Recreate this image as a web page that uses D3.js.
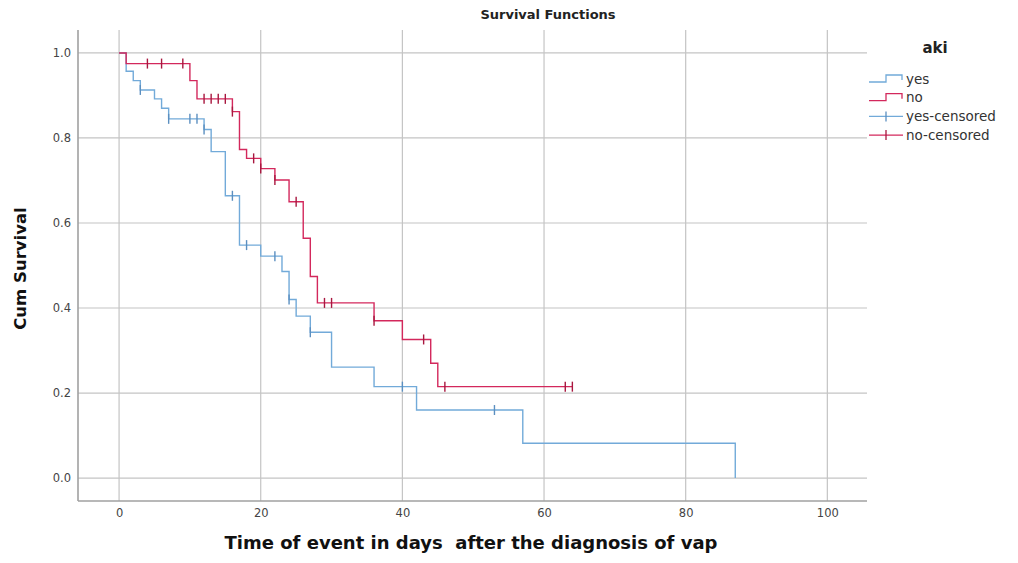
<!DOCTYPE html>
<html>
<head>
<meta charset="utf-8">
<script src="https://cdn.jsdelivr.net/npm/d3@7"></script>
<style>
  body { margin: 0; background: #fff; }
  text { font-family: "DejaVu Sans", Verdana, sans-serif; }
</style>
</head>
<body>
<script>
// Kaplan-Meier steps
const yesTimes = [0, 1, 2, 3, 5, 6, 7, 12, 13, 15, 17, 20, 23, 24, 25, 27, 30, 36, 42, 57, 87];
const yesSurv = [1, 0.957, 0.935, 0.913, 0.892, 0.870, 0.845, 0.820, 0.768, 0.664, 0.548, 0.522, 0.486, 0.420, 0.381, 0.343, 0.261, 0.215, 0.160, 0.082, 0];
const yesCensored = [3, 7, 10, 11, 12, 16, 18, 22, 24, 27, 40, 53];
const yesEnd = 87;

const noTimes = [0, 1, 10, 11, 16, 17, 18, 20, 22, 24, 26, 27, 28, 36, 40, 44, 45];
const noSurv = [1, 0.975, 0.935, 0.892, 0.862, 0.773, 0.752, 0.728, 0.701, 0.650, 0.564, 0.474, 0.412, 0.370, 0.326, 0.270, 0.215];
const noCensored = [4, 6, 9, 12, 13, 14, 15, 16, 19, 20, 22, 25, 29, 30, 36, 43, 46, 63, 64];
const noEnd = 64;

const xTicks = [0, 20, 40, 60, 80, 100];
const yTicks = [0, 0.2, 0.4, 0.6, 0.8, 1.0];
const legendLabels = ["yes", "no", "yes-censored", "no-censored"];

const W = 1018, H = 563;
const plotLeft = 78, plotRight = 867, plotTop = 30, plotBottom = 501;

const svg = d3.select("body").append("svg")
    .attr("width", W)
    .attr("height", H);

const x = d3.scaleLinear().domain([-5.8, 105.6]).range([plotLeft, plotRight]);
const y = d3.scaleLinear().domain([-0.054, 1.054]).range([plotBottom, plotTop]);

const colors = { yes: "#72aad9", no: "#d3285c" };
const markColors = { yes: "#5b8fc0", no: "#a8173f" };

// grid
svg.append("g").selectAll("line").data(xTicks).enter()
    .append("line")
    .attr("x1", d => x(d)).attr("x2", d => x(d))
    .attr("y1", plotTop).attr("y2", plotBottom)
    .attr("stroke", "#c4c4c4").attr("stroke-width", 1.2);

svg.append("g").selectAll("line").data(yTicks).enter()
    .append("line")
    .attr("x1", plotLeft).attr("x2", plotRight)
    .attr("y1", d => y(d)).attr("y2", d => y(d))
    .attr("stroke", "#c4c4c4").attr("stroke-width", 1.2);

// axes (labels only, lines drawn below)
const xAxis = svg.append("g")
    .attr("transform", `translate(0,${plotBottom})`)
    .call(d3.axisBottom(x).tickValues(xTicks).tickSize(0).tickPadding(8));
const yAxis = svg.append("g")
    .attr("transform", `translate(${plotLeft},0)`)
    .call(d3.axisLeft(y).tickValues(yTicks).tickSize(0).tickPadding(7).tickFormat(d3.format(".1f")));
[xAxis, yAxis].forEach(a => {
    a.select(".domain").remove();
    a.selectAll("text")
        .attr("fill", "#444")
        .style("font-size", "11.5px")
        .style("font-family", "'DejaVu Sans', Verdana, sans-serif");
});

svg.append("line")
    .attr("x1", plotLeft).attr("x2", plotLeft).attr("y1", plotTop).attr("y2", plotBottom)
    .attr("stroke", "#a0a0a0").attr("stroke-width", 1.6);
svg.append("line")
    .attr("x1", plotLeft).attr("x2", plotRight).attr("y1", plotBottom).attr("y2", plotBottom)
    .attr("stroke", "#a0a0a0").attr("stroke-width", 1.6);

function survAt(times, surv, t) {
    let s = surv[0];
    times.forEach((tt, i) => { if (tt <= t) s = surv[i]; });
    return s;
}

const line = d3.line()
    .x(d => x(d[0]))
    .y(d => y(d[1]))
    .curve(d3.curveStepAfter);

const groups = [
    { key: "yes", times: yesTimes, surv: yesSurv, cens: yesCensored, end: yesEnd },
    { key: "no", times: noTimes, surv: noSurv, cens: noCensored, end: noEnd }
];

groups.forEach(g => {
    const pts = g.times.map((t, i) => [t, g.surv[i]]);
    const last = pts[pts.length - 1];
    if (last[0] < g.end) pts.push([g.end, last[1]]);

    svg.append("path")
        .datum(pts)
        .attr("d", line)
        .attr("fill", "none")
        .attr("stroke", colors[g.key])
        .attr("stroke-width", 1.4);

    svg.append("g").selectAll("line").data(g.cens).enter()
        .append("line")
        .attr("x1", d => x(d)).attr("x2", d => x(d))
        .attr("y1", d => y(survAt(g.times, g.surv, d)) - 5)
        .attr("y2", d => y(survAt(g.times, g.surv, d)) + 5)
        .attr("stroke", markColors[g.key])
        .attr("stroke-width", 1.4);
});

// titles
svg.append("text")
    .attr("x", 548).attr("y", 19)
    .attr("text-anchor", "middle")
    .attr("fill", "#222")
    .style("font-size", "13px").style("font-weight", "bold")
    .text("Survival Functions");

svg.append("text")
    .attr("x", 471).attr("y", 549)
    .attr("text-anchor", "middle")
    .attr("fill", "#111")
    .style("font-size", "18px").style("font-weight", "bold")
    .style("white-space", "pre")
    .text("Time of event in days  after the diagnosis of vap");

svg.append("text")
    .attr("transform", `translate(26,${(plotTop + plotBottom) / 2 + 3}) rotate(-90)`)
    .attr("text-anchor", "middle")
    .attr("fill", "#111")
    .style("font-size", "16.5px").style("font-weight", "bold")
    .text("Cum Survival");

// legend
const lg = svg.append("g");
lg.append("text")
    .attr("x", 935).attr("y", 53)
    .attr("text-anchor", "middle")
    .attr("fill", "#222")
    .style("font-size", "15px").style("font-weight", "bold")
    .text("aki");

const lx = 869, ly0 = 79, lstep = 18.7;
legendLabels.forEach((lab, i) => {
    const yy = ly0 + i * lstep;
    const key = i % 2 === 0 ? "yes" : "no";
    if (i < 2) {
        lg.append("path")
            .attr("d", `M${lx},${yy + 3}H${lx + 17}V${yy - 4}H${lx + 33}V${yy + 1}`)
            .attr("fill", "none")
            .attr("stroke", colors[key])
            .attr("stroke-width", 1.3);
    } else {
        lg.append("line")
            .attr("x1", lx).attr("x2", lx + 34).attr("y1", yy).attr("y2", yy)
            .attr("stroke", colors[key]).attr("stroke-width", 1.3);
        lg.append("line")
            .attr("x1", lx + 17).attr("x2", lx + 17).attr("y1", yy - 5).attr("y2", yy + 5)
            .attr("stroke", markColors[key]).attr("stroke-width", 1.3);
    }
    lg.append("text")
        .attr("x", lx + 37).attr("y", yy + 4.5)
        .attr("fill", "#333")
        .style("font-size", "13.5px")
        .text(lab);
});
</script>
</body>
</html>
